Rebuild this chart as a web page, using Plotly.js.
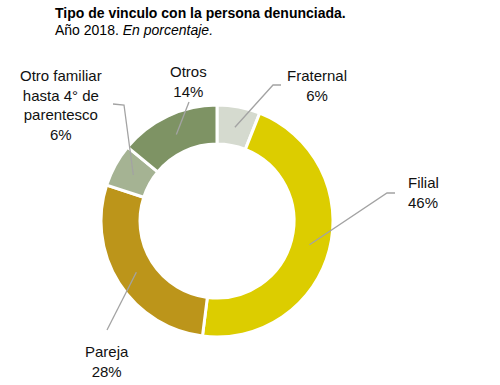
<!DOCTYPE html>
<html><head><meta charset="utf-8">
<script src="https://cdn.plot.ly/plotly-3.0.1.min.js"></script>
<style>html,body{margin:0;padding:0;background:#fff}</style>
</head><body>
<div id="chart" style="width:500px;height:385px"></div>
<script>
// ---- data ----
const categories = ["Fraternal", "Filial", "Pareja", "Otro familiar hasta 4° de parentesco", "Otros"];
const displayNames = ["Fraternal", "Filial", "Pareja", "Otro familiar<br>hasta 4° de<br>parentesco", "Otros"];
const values = [6, 46, 28, 6, 14];
const titleText = "Tipo de vinculo con la persona denunciada.";
const subtitleText = "Año 2018. <i>En porcentaje.</i>";

// ---- styles / layout ----
const sliceColors = ["#d5dacf", "#dccd00", "#bc951a", "#a5b393", "#7e9364"];
const W = 500, H = 385;
const cx = 217, cy = 221, rOut = 116, rIn = 77;
const FONT = "Liberation Sans, Arial, sans-serif";
// label placement (pixels) and label-side leader points
const labelPlace = [
  {x: 317, y: 86,  xanchor: "center", align: "center", lead: [[281, 85], [273, 85]]},
  {x: 406, y: 193, xanchor: "left",   align: "left",   lead: [[395, 193], [387, 193]]},
  {x: 107, y: 361, xanchor: "center", align: "center", lead: [[107, 330]]},
  {x: 61,  y: 105, xanchor: "center", align: "center", lead: [[113, 104], [124, 105]]},
  {x: 188, y: 82,  xanchor: "center", align: "center", lead: [[189, 102]]}
];

const px = (x) => x / W;
const py = (y) => 1 - y / H;

const total = values.reduce((a, b) => a + b, 0);
const rMid = (rOut + rIn) / 2 - 1;
let cum = 0;
const shapes = [];
const annotations = [];
values.forEach((v, i) => {
  const a = (cum + v / 2) / total * 2 * Math.PI;
  cum += v;
  const ex = cx + rMid * Math.sin(a);
  const ey = cy - rMid * Math.cos(a);
  const pts = labelPlace[i].lead.concat([[ex, ey]]);
  const path = pts.map((p, k) => (k ? "L" : "M") + px(p[0]).toFixed(5) + "," + py(p[1]).toFixed(5)).join(" ");
  shapes.push({type: "path", xref: "paper", yref: "paper", path: path,
    line: {color: "#a3a3a3", width: 1.3}, layer: "above"});
  annotations.push({xref: "paper", yref: "paper", x: px(labelPlace[i].x), y: py(labelPlace[i].y),
    xanchor: labelPlace[i].xanchor, yanchor: "middle", align: labelPlace[i].align,
    showarrow: false, text: displayNames[i] + "<br>" + v + "%",
    font: {family: FONT, size: 15, color: "#111"}});
});

annotations.push({xref: "paper", yref: "paper", x: px(53), y: py(13.5), xanchor: "left", yanchor: "middle",
  showarrow: false, text: "<b>" + titleText + "</b>", font: {family: FONT, size: 14, color: "#000"}});
annotations.push({xref: "paper", yref: "paper", x: px(53), y: py(30.5), xanchor: "left", yanchor: "middle",
  showarrow: false, text: subtitleText, font: {family: FONT, size: 14, color: "#000"}});

const trace = {
  type: "pie",
  labels: categories,
  values: values,
  sort: false,
  direction: "clockwise",
  rotation: 0,
  hole: rIn / rOut,
  textinfo: "none",
  hoverinfo: "label+percent",
  marker: {colors: sliceColors, line: {color: "#fff", width: 3}},
  domain: {x: [px(cx - rOut), px(cx + rOut)], y: [py(cy + rOut), py(cy - rOut)]},
  showlegend: false
};

Plotly.newPlot("chart", [trace], {
  width: W, height: H,
  margin: {l: 0, r: 0, t: 0, b: 0},
  paper_bgcolor: "#fff",
  showlegend: false,
  shapes: shapes,
  annotations: annotations
}, {displayModeBar: false, staticPlot: true});
</script>
</body></html>
